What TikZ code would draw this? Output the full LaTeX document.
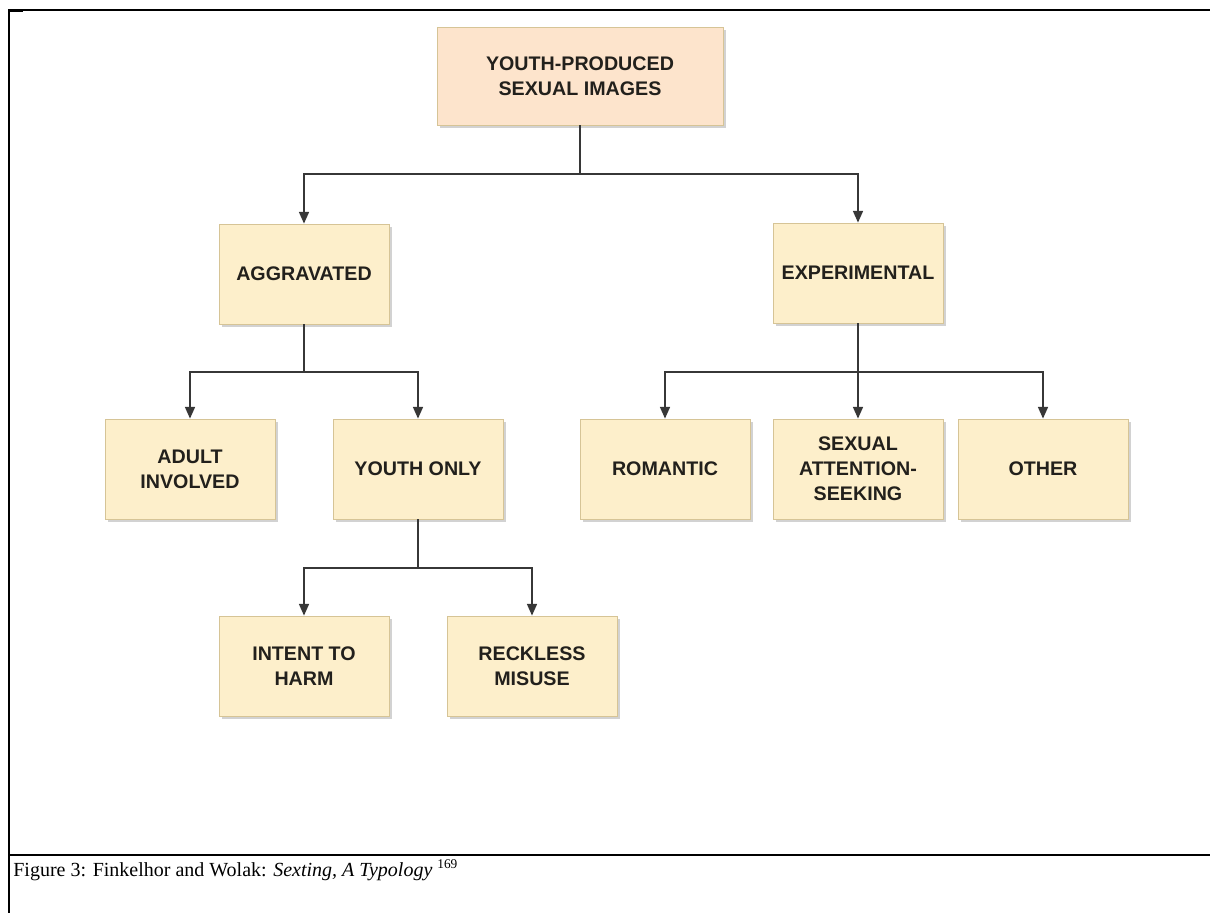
\documentclass[tikz,border=0pt]{standalone}
\usepackage{fontspec}
\setmainfont{Liberation Serif}
\newfontfamily\boxfont{Liberation Sans}
\usetikzlibrary{arrows.meta,shadows}
\definecolor{boxfill}{RGB}{253,239,203}
\definecolor{topfill}{RGB}{253,228,204}
\definecolor{boxline}{RGB}{214,196,150}
\definecolor{boxtext}{RGB}{34,32,28}
\definecolor{wire}{RGB}{55,55,55}
\tikzset{%
  >={Triangle[width=6pt,length=7pt]},
            base/.style = {rectangle, draw=boxline, line width=0.5pt,
                           minimum width=102pt, minimum height=60pt,
                           text centered, align=center, text=boxtext,
                           font=\boxfont\bfseries\fontsize{11.8}{15}\selectfont,
                           drop shadow={shadow xshift=1.6pt, shadow yshift=-1.6pt,
                                        fill=black!35}},
  box0/.style = {base, fill=topfill, minimum width=171.6pt, minimum height=58.8pt},
  box1/.style = {base, fill=boxfill},
  wire/.style = {draw=wire, line width=0.9pt},
  frame/.style = {line width=1.2pt},
}
\begin{document}
\begin{tikzpicture}[x=0.6pt, y=-0.6pt]
  \useasboundingbox (0,0) rectangle (1210,913);

  % frame and caption
  \draw[frame] (9,913) -- (9,10) -- (1210,10);
  \draw[frame] (9,855) -- (1210,855);
  \fill (8,9) rectangle (23,12);
  \node (caption) [anchor=base west, inner sep=0pt, font=\fontsize{12}{14}\selectfont]
    at (13,876) {Figure 3: Finkelhor and Wolak: \textit{Sexting, A Typology} \textsuperscript{169}};

  % boxes
  \node (onImages)   [box0] at (580,76)  {YOUTH-PRODUCED\\SEXUAL IMAGES};
  \node (onAggr)     [box1] at (304,274) {AGGRAVATED};
  \node (onExper)    [box1] at (858,273) {EXPERIMENTAL};
  \node (onAdult)    [box1] at (190,469) {ADULT\\INVOLVED};
  \node (onYouth)    [box1] at (418,469) {YOUTH ONLY};
  \node (onRomantic) [box1] at (665,469) {ROMANTIC};
  \node (onSexual)   [box1] at (858,469) {SEXUAL\\ATTENTION-\\SEEKING};
  \node (onOther)    [box1] at (1043,469) {OTHER};
  \node (onIntent)   [box1] at (304,666) {INTENT TO\\HARM};
  \node (onReckless) [box1] at (532,666) {RECKLESS\\MISUSE};

  % junctions
  \coordinate (j_top)   at (580,174);
  \coordinate (j_aggr)  at (304,372);
  \coordinate (j_exper) at (858,372);
  \coordinate (j_youth) at (418,568);

  \draw[wire]     (onImages) -- (j_top);
  \draw[wire, ->] (j_top) -| (onAggr);
  \draw[wire, ->] (j_top) -| (onExper);
  \draw[wire]     (onAggr) -- (j_aggr);
  \draw[wire, ->] (j_aggr) -| (onAdult);
  \draw[wire, ->] (j_aggr) -| (onYouth);
  \draw[wire]     (onExper) -- (j_exper);
  \draw[wire, ->] (j_exper) -| (onRomantic);
  \draw[wire, ->] (j_exper) -- (onSexual);
  \draw[wire, ->] (j_exper) -| (onOther);
  \draw[wire]     (onYouth) -- (j_youth);
  \draw[wire, ->] (j_youth) -| (onIntent);
  \draw[wire, ->] (j_youth) -| (onReckless);
\end{tikzpicture}
\end{document}
